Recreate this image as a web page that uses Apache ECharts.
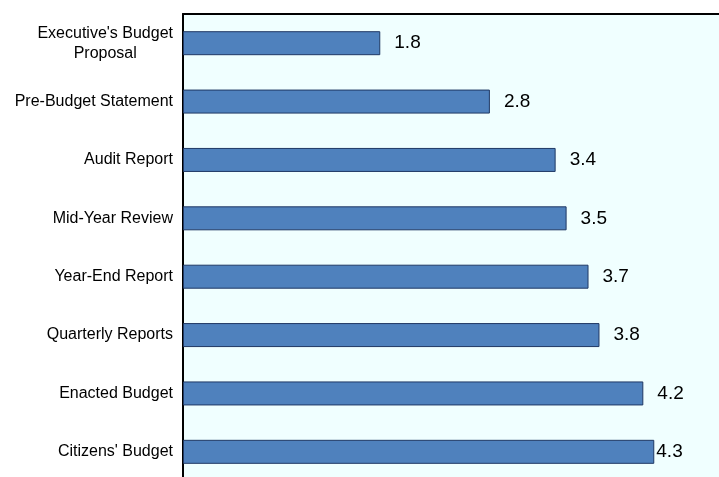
<!DOCTYPE html>
<html>
<head>
<meta charset="utf-8">
<script src="https://cdn.jsdelivr.net/npm/echarts@6/dist/echarts.min.js"></script>
<style>
  html, body { margin: 0; padding: 0; background: #ffffff; }
  #chart { width: 719px; height: 477px; }
</style>
</head>
<body>
<div id="chart"></div>
<script>
// Document categories, top to bottom
const categories = [
  "Executive's Budget\nProposal",
  'Pre-Budget Statement',
  'Audit Report',
  'Mid-Year Review',
  'Year-End Report',
  'Quarterly Reports',
  'Enacted Budget',
  "Citizens' Budget"
];
// Score for each document
const scores = [1.8, 2.8, 3.4, 3.5, 3.7, 3.8, 4.2, 4.3];

const FONT = '"Liberation Sans", Arial, sans-serif';

const chart = echarts.init(document.getElementById('chart'), null, { renderer: 'canvas' });

chart.setOption({
  animation: false,
  backgroundColor: '#ffffff',
  grid: {
    left: 183, top: 14, width: 548, height: 467,
    outerBoundsMode: 'none', containLabel: false,
    show: true, backgroundColor: '#F0FFFF', borderWidth: 0
  },
  xAxis: {
    type: 'value', min: 0, max: 5, position: 'top',
    axisLine: { show: true, lineStyle: { color: '#000', width: 2 } },
    axisTick: { show: false }, axisLabel: { show: false }, splitLine: { show: false }
  },
  yAxis: {
    type: 'category', data: categories, inverse: true,
    axisLine: { show: true, lineStyle: { color: '#000', width: 2 } },
    axisTick: { show: false },
    axisLabel: {
      color: '#000', fontFamily: FONT, fontSize: 16, margin: 10,
      lineHeight: 20, align: 'right',
      // wrapped labels keep their lines centred on each other
      formatter: v => v.indexOf('\n') >= 0
        ? v.split('\n').map(s => '{c|' + s + '}').join('\n')
        : v,
      rich: {
        c: { align: 'center', fontFamily: FONT, fontSize: 16, lineHeight: 20, color: '#000' }
      }
    }
  },
  series: [{
    type: 'bar',
    data: scores.map((v, i) => i === scores.length - 1
      ? { value: v, label: { distance: 2 } }
      : v),
    barWidth: 24,
    itemStyle: { color: '#4F81BD', borderColor: '#1F3864', borderWidth: 1 },
    label: {
      show: true, position: 'right', distance: 14,
      color: '#000', fontFamily: FONT, fontSize: 19,
      formatter: p => p.value.toFixed(1)
    }
  }]
});
</script>
</body>
</html>
